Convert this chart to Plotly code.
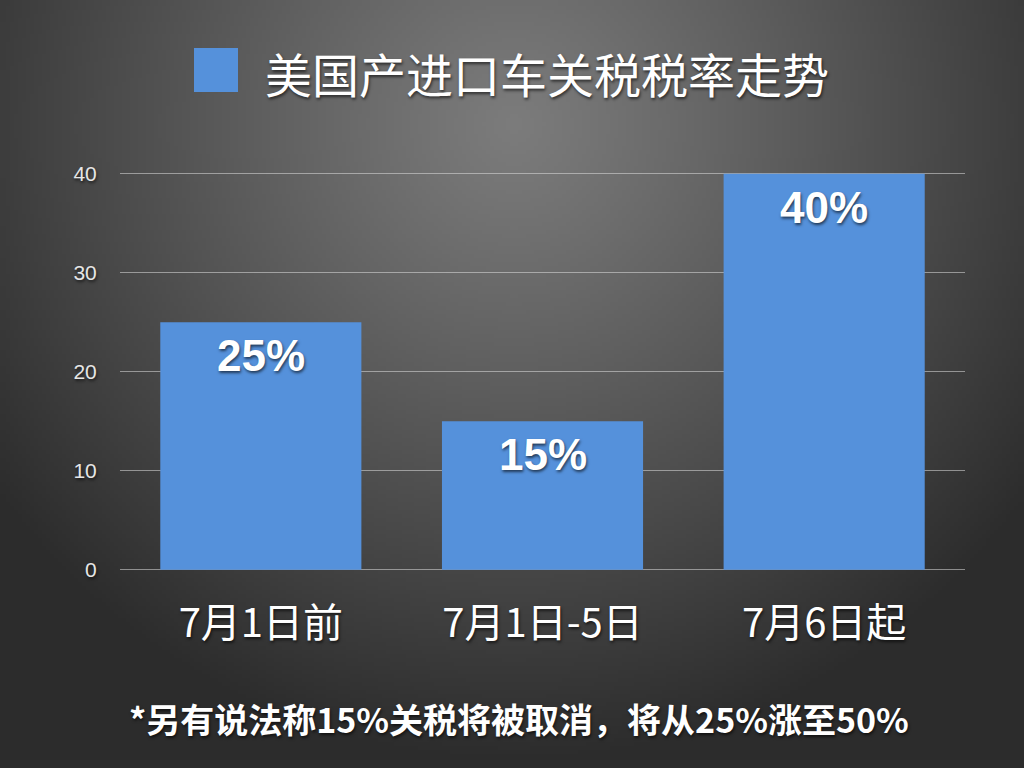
import base64
import struct
import zlib

import numpy as np
import plotly.graph_objects as go

# data
categories = ["7月1日前", "7月1日-5日", "7月6日起"]
rates = [25, 15, 40]
rate_labels = ["25%", "15%", "40%"]
title_text = "美国产进口车关税税率走势"
note_text = "*另有说法称15%关税将被取消，将从25%涨至50%"

BAR_COLOR = "#5591db"
CJK = "Noto Sans CJK SC"
shadow = "1px 2px 3px rgba(0,0,0,0.6)"

# plot area in pixels (top edge a little above the 40 line so it gets drawn)
L, R, T, B = 120, 59, 172, 198
PW, PH = 1024 - L - R, 768 - T - B


def gradient_png(w=256, h=192):
    # radial grey background, brightest near the top centre
    yy, xx = np.mgrid[0:h, 0:w]
    cx, cy = w * 0.5, h * 0.16
    r = np.hypot((xx - cx) / w * 1024, (yy - cy) / h * 768)
    t = np.clip(r / 640.0, 0, 1) ** 1.1
    v = (124 - (124 - 44) * t).astype(np.uint8)
    raw = b"".join(b"\x00" + v[i].tobytes() for i in range(h))

    def chunk(tag, data):
        c = struct.pack(">I", len(data)) + tag + data
        return c + struct.pack(">I", zlib.crc32(tag + data) & 0xFFFFFFFF)

    png = b"\x89PNG\r\n\x1a\n"
    png += chunk(b"IHDR", struct.pack(">IIBBBBB", w, h, 8, 0, 0, 0, 0))
    png += chunk(b"IDAT", zlib.compress(raw, 9))
    png += chunk(b"IEND", b"")
    return "data:image/png;base64," + base64.b64encode(png).decode()


def px(x, y):
    # page pixel -> paper coords
    return (x - L) / PW, (768 - B - y) / PH


fig = go.Figure()
fig.add_trace(go.Bar(x=categories, y=rates, marker_color=BAR_COLOR,
                     marker_line_width=0, hoverinfo="skip"))

for c, v, t in zip(categories, rates, rate_labels):
    fig.add_annotation(x=c, y=v, text=t, showarrow=False, yanchor="top", yshift=-7,
                       font=dict(family="Liberation Sans, " + CJK, size=44, color="white",
                                 weight="bold", shadow=shadow))

# title with legend swatch
x0, y0 = px(194, 92)
x1, y1 = px(238, 48)
fig.add_shape(type="rect", xref="paper", yref="paper", x0=x0, x1=x1, y0=y0, y1=y1,
              fillcolor=BAR_COLOR, line_width=0)
tx, ty = px(263, 72)
fig.add_annotation(xref="paper", yref="paper", x=tx, y=ty,
                   xanchor="left", yanchor="middle", text=title_text, showarrow=False,
                   font=dict(family=CJK, size=47, color="white", shadow=shadow))
nx, ny = px(519, 718)
fig.add_annotation(xref="paper", yref="paper", x=nx, y=ny,
                   xanchor="center", yanchor="middle", text=note_text, showarrow=False,
                   font=dict(family=CJK, size=34, color="white", weight="bold", shadow=shadow))

gx, gy = px(0, 0)
fig.update_layout(
    width=1024, height=768,
    margin=dict(l=L, r=R, t=T, b=B),
    paper_bgcolor="#3a3a3a", plot_bgcolor="rgba(0,0,0,0)",
    showlegend=False, bargap=0.286,
    images=[dict(source=gradient_png(), xref="paper", yref="paper",
                 x=gx, y=gy, sizex=1024 / PW, sizey=768 / PH,
                 xanchor="left", yanchor="top", sizing="stretch", layer="below")],
)
fig.update_xaxes(showgrid=False, showline=False, zeroline=False,
                 ticks="outside", ticklen=18, tickcolor="rgba(0,0,0,0)",
                 tickfont=dict(family=CJK, size=40, color="white", shadow=shadow))
fig.update_yaxes(range=[-0.02, 40.18], tickvals=[0, 10, 20, 30, 40],
                 showgrid=True, gridcolor="rgba(220,220,220,0.55)", gridwidth=1,
                 zeroline=True, zerolinecolor="rgba(220,220,220,0.55)", zerolinewidth=1,
                 showline=False, ticks="outside", ticklen=18, tickcolor="rgba(0,0,0,0)",
                 tickfont=dict(family="Liberation Sans", size=21, color="#e6e6e6", shadow=shadow))

fig.write_html("out.html", config={"displayModeBar": False},
               post_script="document.body.style.margin='0';document.body.style.overflow='hidden';")
